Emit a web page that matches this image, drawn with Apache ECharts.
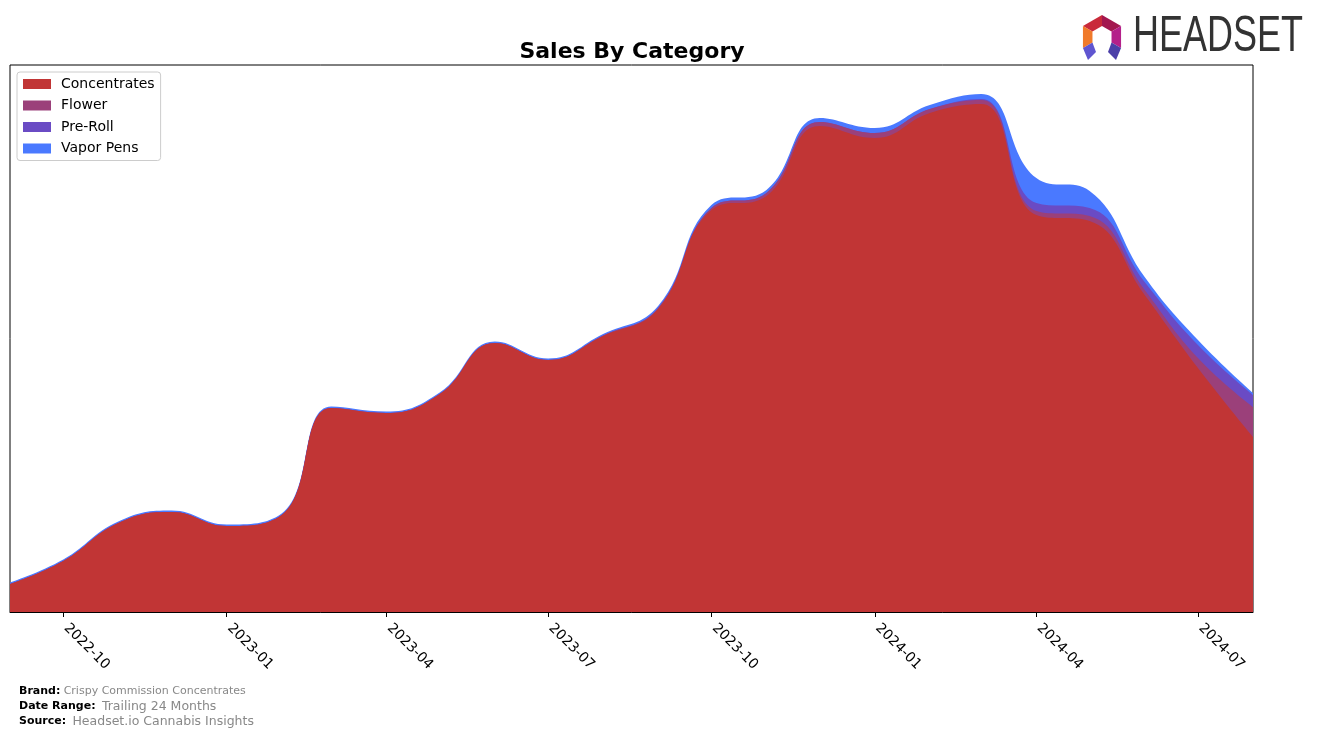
<!DOCTYPE html>
<html><head><meta charset="utf-8">
<script src="https://cdn.jsdelivr.net/npm/echarts@6/dist/echarts.min.js"></script>
<style>html,body{margin:0;padding:0;background:#fff}#c{width:1317px;height:739px}</style>
</head><body><div id="c"></div>
<script>
const months = ['2022-09-01','2022-10-01','2022-11-01','2022-12-01','2023-01-01','2023-02-01','2023-03-01','2023-04-01','2023-05-01','2023-06-01','2023-07-01','2023-08-01','2023-09-01','2023-10-01','2023-11-01','2023-12-01','2024-01-01','2024-02-01','2024-03-01','2024-04-01','2024-05-01','2024-06-01','2024-07-01','2024-08-01'];
const concentrates = [28, 51, 89, 100, 86, 97, 204, 199, 218, 269, 252, 276, 303, 402, 416, 486, 474, 499, 508, 397, 391, 317, 244, 175];
const flower =       [0, 0, 0, 0, 0, 0, 0, 0, 0, 0, 0, 0.5, 1, 2, 3, 4, 5, 4, 4, 4, 5, 5, 10, 30];
const preRoll =      [0, 0, 0, 0, 0, 0, 0, 0, 0, 0, 0, 0, 0, 0, 0, 0, 0, 0, 1, 8, 8, 8, 13, 12];
const vaporPens =    [1.5, 1.5, 1.5, 1.5, 1.5, 1.5, 1.5, 1.5, 1.5, 1.5, 1.5, 1.5, 2, 3, 3, 4, 5, 4, 5, 25, 17, 5, 5, 2];
const tickLabels = ['2022-10','2023-01','2023-04','2023-07','2023-10','2024-01','2024-04','2024-07'];

const seriesDefs = [
  {name:'Concentrates', data:concentrates, color:'#C13535'},
  {name:'Flower', data:flower, color:'#9B407A'},
  {name:'Pre-Roll', data:preRoll, color:'#6A4BC4'},
  {name:'Vapor Pens', data:vaporPens, color:'#4A79FF'}
];
const ts = s => +new Date(s + 'T00:00:00');
const monthTs = months.map(ts);
const tickVals = tickLabels.map(s => ts(s + '-01'));
const fmt = v => { const d = new Date(v); return d.getFullYear() + '-' + String(d.getMonth()+1).padStart(2,'0'); };
const FONT = 'DejaVu Sans';

// stack the layers (cumulative sums), draw the top layer first
let run = months.map(() => 0);
const stacked = seriesDefs.map(s => { run = run.map((v,i) => v + s.data[i]); return {...s, cum: run.slice()}; });
const seriesList = stacked.slice().reverse().map((s, k) => ({
  name:s.name, type:'line', smooth:0.45, showSymbol:false, symbol:'none', z:2+k,
  lineStyle:{width:0}, areaStyle:{color:s.color, opacity:1, origin:'start'}, itemStyle:{color:s.color},
  data: monthTs.map((m,i)=>[m, s.cum[i]])
}));

// Logo geometry
const cx = 1102, cy = 37, R = 22, r = 11;
const pt = (a, rad) => [cx + rad*Math.cos(a*Math.PI/180), cy + rad*Math.sin(a*Math.PI/180)];
const seg = (a1, a2, color) => ({type:'polygon', shape:{points:[pt(a1,R),pt(a2,R),pt(a2,r),pt(a1,r)]}, style:{fill:color}});

const chart = echarts.init(document.getElementById('c'), null, {renderer:'canvas'});
chart.setOption({
  animation:false,
  backgroundColor:'#fff',
  title:{text:'Sales By Category', left:627, top:36, textAlign:'center',
    textStyle:{fontFamily:FONT, fontSize:22, fontWeight:'bold', color:'#000'}},
  legend:{orient:'vertical', left:17, top:72, icon:'rect', itemWidth:28, itemHeight:10, itemGap:7.5,
    padding:[5,6,5,6], borderColor:'#ccc', borderWidth:1, borderRadius:3, backgroundColor:'#fff',
    textStyle:{fontFamily:FONT, fontSize:14, color:'#000', padding:[0,0,0,5]},
    data:seriesDefs.map(s=>s.name)},
  grid:{left:10, right:64, top:65, bottom:127, show:true, borderColor:'#000', borderWidth:1, containLabel:false},
  xAxis:{type:'value', min:monthTs[0], max:monthTs[monthTs.length-1],
    axisLine:{show:true, onZero:false, lineStyle:{color:'#000'}},
    axisTick:{show:true, length:5, lineStyle:{color:'#000'}, customValues:tickVals},
    axisLabel:{customValues:tickVals, formatter:fmt, rotate:-45, margin:11, padding:[0,0,0,4], fontFamily:FONT, fontSize:14, color:'#000'},
    splitLine:{show:false}},
  yAxis:{type:'value', min:0, max:547, show:false, splitLine:{show:false}},
  series: seriesList,
  graphic:[
    seg(210,270,'#C92A3A'), seg(270,330,'#A3174F'), seg(330,390,'#B4208A'), seg(150,210,'#F07A2A'),
    {type:'polygon', shape:{points:[pt(30,R),pt(30,r),[cx+6,cy+15],[cx+14,cy+23]]}, style:{fill:'#4B3FA8'}},
    {type:'polygon', shape:{points:[pt(150,R),pt(150,r),[cx-6,cy+15],[cx-14,cy+23]]}, style:{fill:'#5F55D0'}},
    {type:'text', x:1133, y:12, scaleX:0.72, style:{text:'HEADSET', fontFamily:'Liberation Sans', fontSize:50, fill:'#333'}},
    {type:'text', left:19, top:685, style:{rich:{b:{fontFamily:FONT,fontWeight:'bold',fontSize:11,fill:'#000'},g:{fontFamily:FONT,fontSize:11,fill:'#888'}}, text:'{b|Brand:} {g|Crispy Commission Concentrates}'}},
    {type:'text', left:19, top:700, style:{rich:{b:{fontFamily:FONT,fontWeight:'bold',fontSize:11,fill:'#000'},g:{fontFamily:FONT,fontSize:12.5,fill:'#888',padding:[0,0,0,3]}}, text:'{b|Date Range:} {g|Trailing 24 Months}'}},
    {type:'text', left:19, top:715, style:{rich:{b:{fontFamily:FONT,fontWeight:'bold',fontSize:11,fill:'#000'},g:{fontFamily:FONT,fontSize:12.5,fill:'#888',padding:[0,0,0,3]}}, text:'{b|Source:} {g|Headset.io Cannabis Insights}'}}
  ]
});
</script></body></html>
